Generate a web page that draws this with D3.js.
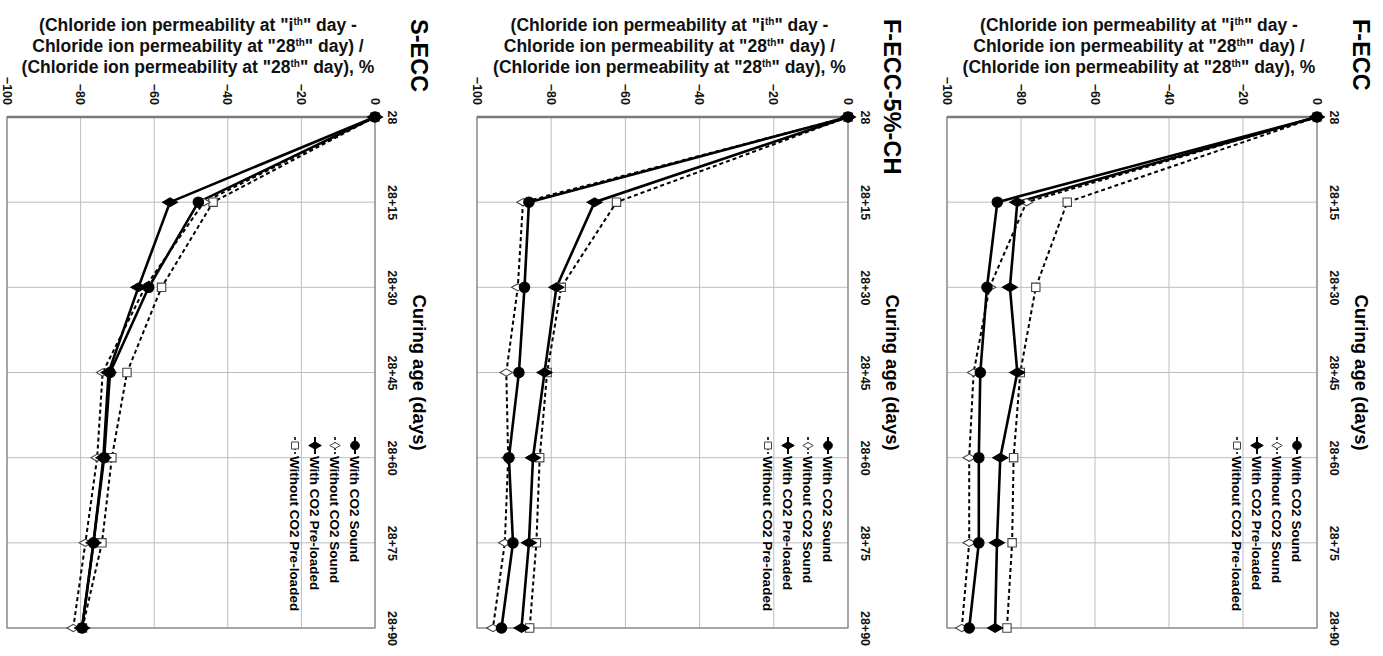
<!DOCTYPE html>
<html>
<head>
<meta charset="utf-8">
<script src="https://d3js.org/d3.v7.min.js"></script>
<style>
  body { margin: 0; background: #fff; }
  text { font-family: "Liberation Sans", Arial, sans-serif; }
</style>
</head>
<body>
<div id="chart"></div>
<script>
// curing ages (categories) and value axis ticks
const ages = ["28", "28+15", "28+30", "28+45", "28+60", "28+75", "28+90"];
const valueTicks = [-100, -80, -60, -40, -20, 0];
const seriesNames = ["With CO2 Sound", "Without CO2 Sound", "With CO2 Pre-loaded", "Without CO2 Pre-loaded"];
const panelNames = ["F-ECC", "F-ECC-5%-CH", "S-ECC"];

// F-ECC
const fEccWithSound = [0, -86.4, -89.2, -91, -91.4, -91.4, -94];
const fEccWithoutSound = [0, -78.5, -88.5, -92.8, -94, -94, -96];
const fEccWithPre = [0, -81, -83, -81, -85.6, -86.5, -87];
const fEccWithoutPre = [0, -67.5, -76, -80.2, -82, -82.4, -83.8];

// F-ECC-5%-CH
const chWithSound = [0, -86, -87.2, -88.7, -91.4, -90.3, -93.4];
const chWithoutSound = [0, -87.6, -89, -92.1, -91.6, -92.5, -95.7];
const chWithPre = [0, -68.3, -78.6, -81.8, -84.9, -86, -88];
const chWithoutPre = [0, -62.4, -77.3, -81.1, -83.1, -84, -85.8];

// S-ECC
const sEccWithSound = [0, -48, -61.5, -72, -73.6, -76.5, -79.6];
const sEccWithoutSound = [0, -46.5, -62.5, -74, -75.5, -78.7, -82];
const sEccWithPre = [0, -55.7, -64.3, -72.4, -73.8, -76.5, -79.6];
const sEccWithoutPre = [0, -44, -58, -67.4, -71.5, -74.2, -79.5];

const panelSeries = [
  [fEccWithSound, fEccWithoutSound, fEccWithPre, fEccWithoutPre],
  [chWithSound, chWithoutSound, chWithPre, chWithoutPre],
  [sEccWithSound, sEccWithoutSound, sEccWithPre, sEccWithoutPre]
];

const width = 1383, height = 656;
const plotTop = 117, plotBottom = 628;
const panelBox = [
  {left: 947, right: 1317},
  {left: 477, right: 848},
  {left: 7, right: 375}
];

// line / marker look of each series
const looks = [
  {dash: null, width: 2.6, symbol: d3.symbolCircle, size: 85, fill: "#000"},
  {dash: "4,3", width: 2, symbol: d3.symbolDiamond, size: 45, fill: "#fff"},
  {dash: null, width: 2.6, symbol: d3.symbolDiamond, size: 65, fill: "#000"},
  {dash: "4,3", width: 2, symbol: d3.symbolSquare, size: 70, fill: "#fff"}
];

const svg = d3.select("#chart")
  .append("svg")
    .attr("width", width)
    .attr("height", height);

svg.append("rect").attr("width", width).attr("height", height).attr("fill", "#fff");

panelNames.forEach(function(name, i) {
  const box = panelBox[i];
  const W = plotBottom - plotTop, H = box.right - box.left;

  // whole panel is drawn turned 90 degrees clockwise
  const g = svg.append("g")
    .attr("transform", `translate(${box.right}, ${plotTop}) rotate(90)`);

  const x = d3.scalePoint().domain(ages).range([0, W]);
  const y = d3.scaleLinear().domain([-100, 0]).range([H, 0]);

  // grid
  g.append("g").selectAll("line")
    .data(ages)
    .join("line")
      .attr("x1", d => x(d)).attr("x2", d => x(d))
      .attr("y1", 0).attr("y2", H)
      .attr("stroke", "#bdbdbd").attr("stroke-width", 1);
  g.append("g").selectAll("line")
    .data(valueTicks)
    .join("line")
      .attr("x1", 0).attr("x2", W)
      .attr("y1", d => y(d)).attr("y2", d => y(d))
      .attr("stroke", "#bdbdbd").attr("stroke-width", 1);
  g.append("rect")
    .attr("width", W).attr("height", H)
    .attr("fill", "none").attr("stroke", "#808080").attr("stroke-width", 1.2);
  g.append("line")
    .attr("x1", 0).attr("x2", 0).attr("y1", 0).attr("y2", H)
    .attr("stroke", "#7a7a7a").attr("stroke-width", 2.5);

  // value axis (shows above the plot)
  const ya = g.append("g")
    .call(d3.axisLeft(y).tickValues(valueTicks).tickSize(0).tickPadding(12));
  ya.select(".domain").remove();
  ya.selectAll("text")
    .attr("font-family", "Liberation Sans, Arial, sans-serif")
    .attr("font-size", 12.5).attr("font-weight", "bold").attr("fill", "#111");

  // curing age axis (shows right of the plot)
  const xa = g.append("g")
    .call(d3.axisTop(x).tickSize(0).tickPadding(13));
  xa.select(".domain").remove();
  xa.selectAll("text")
    .attr("font-family", "Liberation Sans, Arial, sans-serif")
    .attr("font-size", 12.5).attr("font-weight", "bold").attr("fill", "#111");

  g.append("text")
    .attr("x", W / 2).attr("y", -38)
    .attr("text-anchor", "middle")
    .attr("font-size", 18.5).attr("font-weight", "bold")
    .text("Curing age (days)");

  g.append("text")
    .attr("x", -98).attr("y", -36)
    .attr("font-size", 23.5).attr("font-weight", "bold")
    .text(name);

  // series
  const line = d3.line()
    .x((d, k) => x(ages[k]))
    .y(d => y(d));

  const order = [3, 1, 2, 0];
  order.forEach(function(s) {
    const vals = panelSeries[i][s];
    const look = looks[s];
    g.append("path")
      .datum(vals)
      .attr("d", line)
      .attr("fill", "none")
      .attr("stroke", "#000")
      .attr("stroke-width", look.width)
      .attr("stroke-dasharray", look.dash);
  });
  order.forEach(function(s) {
    const vals = panelSeries[i][s];
    const look = looks[s];
    g.append("g").selectAll("path")
      .data(vals)
      .join("path")
        .attr("d", d3.symbol().type(look.symbol).size(look.size))
        .attr("transform", (d, k) => `translate(${x(ages[k])}, ${y(d)})`)
        .attr("fill", look.fill)
        .attr("stroke", look.fill === "#fff" ? "#444" : "#000")
        .attr("stroke-width", 1.1);
  });

  // legend
  const lg = g.append("g");
  seriesNames.forEach(function(sn, s) {
    const look = looks[s];
    const ly = 20 + 20 * s;
    lg.append("line")
      .attr("x1", 320).attr("x2", 337).attr("y1", ly).attr("y2", ly)
      .attr("stroke", "#000").attr("stroke-width", look.dash ? 1.6 : 2)
      .attr("stroke-dasharray", look.dash ? "3,2" : null);
    lg.append("path")
      .attr("d", d3.symbol().type(look.symbol).size(look.size * 0.7))
      .attr("transform", `translate(328.5, ${ly})`)
      .attr("fill", look.fill)
      .attr("stroke", look.fill === "#fff" ? "#444" : "#000");
    lg.append("text")
      .attr("x", 339).attr("y", ly)
      .attr("dy", "0.35em")
      .attr("font-size", 13.5).attr("font-weight", "bold")
      .text(sn);
  });

  // value axis title (horizontal on the page)
  const cx = (box.left + box.right) / 2 + 7;
  const titleLines = [
    ["(Chloride ion permeability at \"i", "th", "\" day -"],
    ["Chloride ion permeability at \"28", "th", "\" day) /"],
    ["(Chloride ion permeability at \"28", "th", "\" day), %"]
  ];
  titleLines.forEach(function(parts, j) {
    const t = svg.append("text")
      .attr("x", cx).attr("y", 31 + 21 * j)
      .attr("text-anchor", "middle")
      .attr("font-size", 17.5).attr("font-weight", "bold")
      .attr("fill", "#111");
    t.append("tspan").text(parts[0]);
    t.append("tspan").attr("dy", -6).attr("font-size", 10).text(parts[1]);
    t.append("tspan").attr("dy", 6).text(parts[2]);
  });
});
</script>
</body>
</html>
